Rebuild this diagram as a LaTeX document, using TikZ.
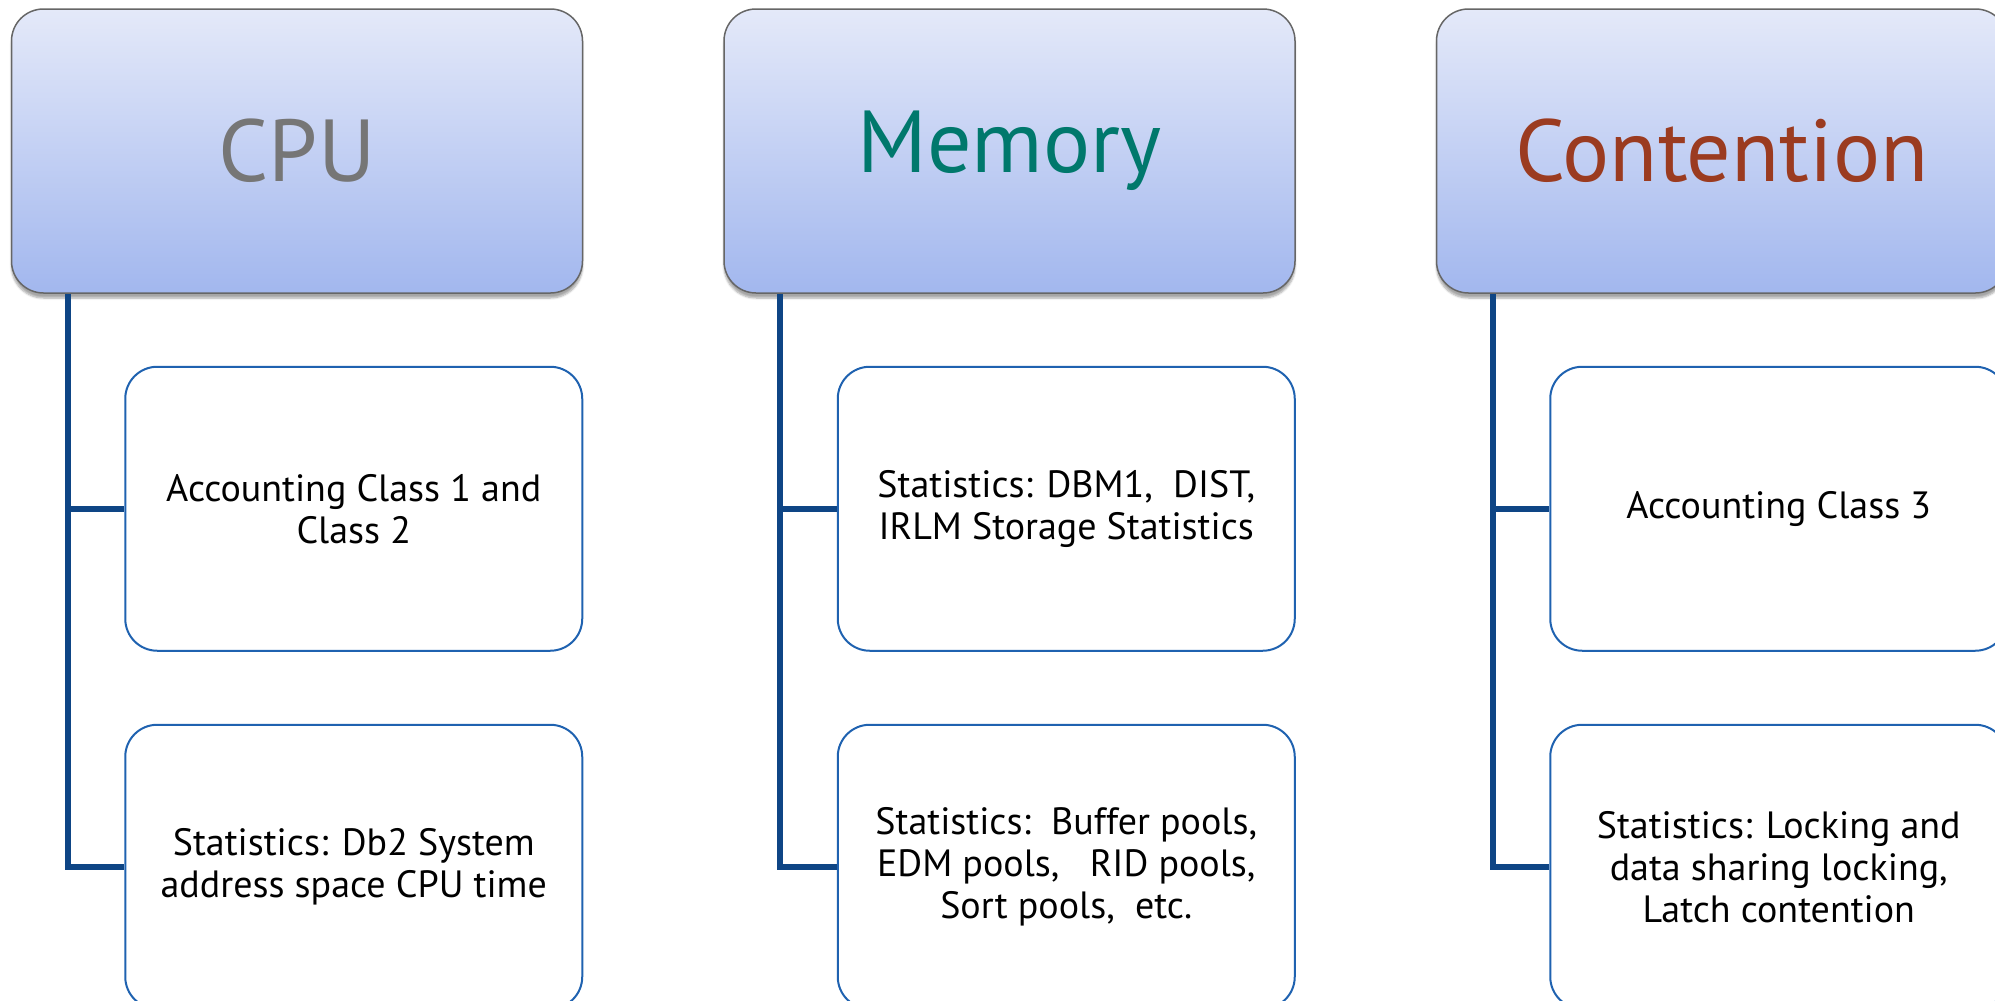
\documentclass[tikz,border=0pt]{standalone}
\usepackage{fontspec}
\setmainfont{PT Sans}
\usepackage{xcolor}
\usetikzlibrary{positioning, shadows.blur}

\definecolor{headtop}{HTML}{E4E9F9}
\definecolor{headbot}{HTML}{A2B7EE}
\definecolor{linkblue}{HTML}{0E4585}
\definecolor{leafblue}{HTML}{1F62B0}
\definecolor{cpugrey}{HTML}{767676}
\definecolor{memteal}{HTML}{00786C}
\definecolor{contrust}{HTML}{9B3B20}

\tikzset{
  head/.style={draw=black!60, line width=1.5pt, rounded corners=32pt,
    top color=headtop, bottom color=headbot,
    minimum width=571pt, minimum height=284pt,
    blur shadow={shadow xshift=0pt, shadow yshift=-5pt, shadow blur steps=6, shadow opacity=35},
    font=\fontsize{88}{96}\selectfont},
  leaf/.style={draw=leafblue, line width=2pt, rounded corners=32pt, fill=white,
    minimum width=457pt, minimum height=284pt, align=center,
    font=\fontsize{38}{42}\selectfont},
  link/.style={draw=linkblue, line width=6pt}
}

\begin{document}
\begin{tikzpicture}[x=1pt, y=-1pt]
        \useasboundingbox (0,0) rectangle (1995,1001);
        \node[head, text=cpugrey] (cpu) at (297,151) {CPU};
        \node[head, text=memteal] (mem) at (1009.5,151) {Memory};
        \node[head, text=contrust] (cont) at (1722,151) {Contention};

        \node[leaf] (cpu1) [below left=72pt and 0pt of cpu.south east] {Accounting Class 1 and\\Class 2};
        \node[leaf] (cpu2) [below=72pt of cpu1] {Statistics: Db2 System\\address space CPU time};
        \node[leaf] (mem1) [below left=72pt and 0pt of mem.south east] {Statistics: DBM1,\ \ DIST,\\IRLM Storage Statistics};
        \node[leaf] (mem2) [below=72pt of mem1] {Statistics:\ \ Buffer pools,\\EDM pools,\ \ \ RID pools,\\Sort pools,\ \ etc.};
        \node[leaf] (cont1) [below left=72pt and 0pt of cont.south east] {Accounting Class 3};
        \node[leaf] (cont2) [below=72pt of cont1] {Statistics: Locking and\\data sharing locking,\\Latch contention};

        \coordinate (cpuroot) at ([xshift=57pt]cpu.south west);
        \coordinate (memroot) at ([xshift=57pt]mem.south west);
        \coordinate (controot) at ([xshift=57pt]cont.south west);
        \path[link]
        (cpuroot) |- (cpu1.west)
        (cpuroot) |- (cpu2.west)
        (memroot) |- (mem1.west)
        (memroot) |- (mem2.west)
        (controot) |- (cont1.west)
        (controot) |- (cont2.west);
    \end{tikzpicture}
\end{document}
